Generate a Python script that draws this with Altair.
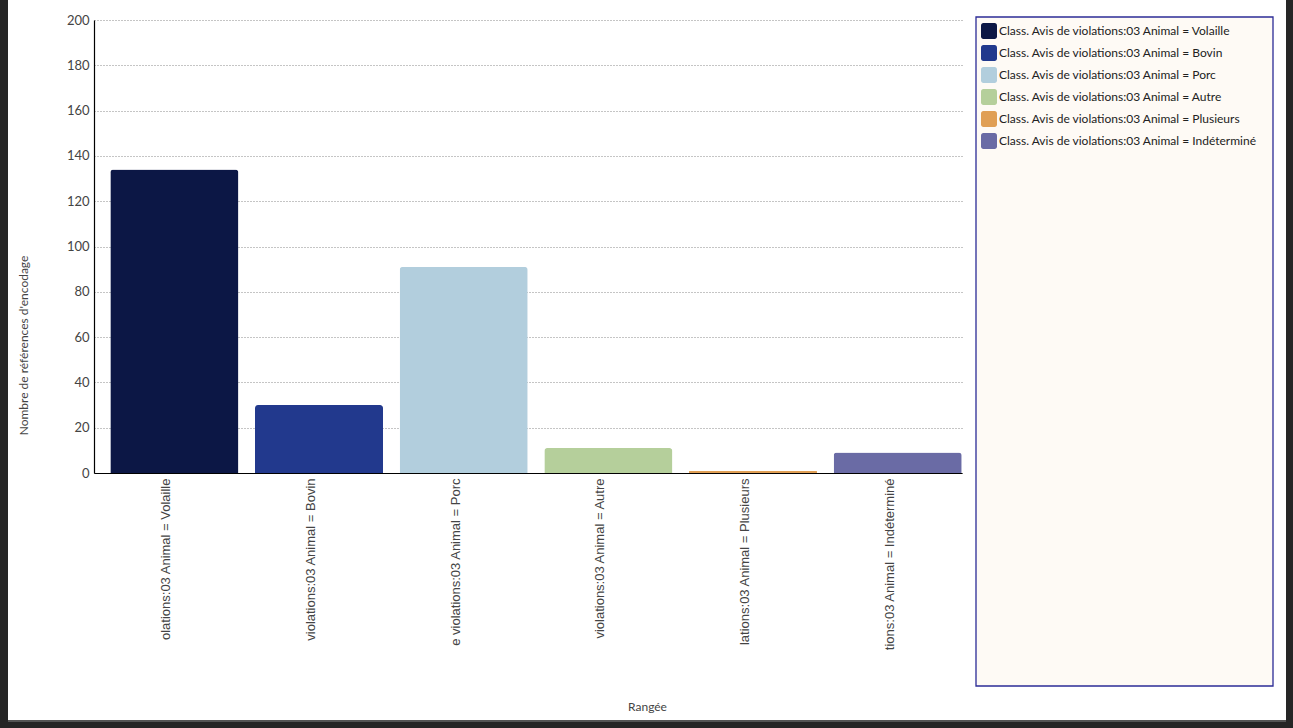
import altair as alt
import pandas as pd

categories = [
    "Class. Avis de violations:03 Animal = Volaille",
    "Class. Avis de violations:03 Animal = Bovin",
    "Class. Avis de violations:03 Animal = Porc",
    "Class. Avis de violations:03 Animal = Autre",
    "Class. Avis de violations:03 Animal = Plusieurs",
    "Class. Avis de violations:03 Animal = Indéterminé",
]
values = [134, 30, 91, 11, 1, 9]
colors = ["#0c1745", "#22398d", "#b2cedd", "#b5cf9b", "#e09f55", "#6a6ba5"]
y_ticks = [0, 20, 40, 60, 80, 100, 120, 140, 160, 180, 200]

df = pd.DataFrame({"cat": categories, "val": values})

PL, PT = 94, 20
W, H = 868, 453
TOTAL_W, TOTAL_H = 1293, 728

one = pd.DataFrame({"a": [0]})

ROUNDED_SQUARE = ("M-0.7,-1H0.7A0.3,0.3 0 0 1 1,-0.7V0.7A0.3,0.3 0 0 1 0.7,1"
                  "H-0.7A0.3,0.3 0 0 1 -1,0.7V-0.7A0.3,0.3 0 0 1 -0.7,-1Z")

# legend frame
frame = alt.Chart(one).mark_rect(fill="#fefaf5", stroke="#2c2c96", strokeWidth=1.3).encode(
    x=alt.value(976 - PL), x2=alt.value(1273 - PL),
    y=alt.value(17 - PT), y2=alt.value(686 - PT),
)

# dark screenshot frame
dark = "#262626"
left_strip = alt.Chart(one).mark_rect(fill=dark).encode(
    x=alt.value(-PL), x2=alt.value(8 - PL), y=alt.value(-PT), y2=alt.value(TOTAL_H - PT))
right_strip = alt.Chart(one).mark_rect(fill=dark).encode(
    x=alt.value(1286 - PL), x2=alt.value(TOTAL_W - PL), y=alt.value(-PT), y2=alt.value(TOTAL_H - PT))
bottom_strip = alt.Chart(one).mark_rect(fill=dark).encode(
    x=alt.value(-PL), x2=alt.value(TOTAL_W - PL), y=alt.value(722 - PT), y2=alt.value(TOTAL_H - PT))
bottom_line = alt.Chart(one).mark_rect(fill="#555555").encode(
    x=alt.value(8 - PL), x2=alt.value(1286 - PL), y=alt.value(720 - PT), y2=alt.value(722 - PT))

bars = alt.Chart(df).mark_bar(
    cornerRadiusTopLeft=3, cornerRadiusTopRight=3, xOffset=8
).encode(
    x=alt.X(
        "cat:N", sort=categories,
        scale=alt.Scale(paddingInner=0.115, paddingOuter=0.0575),
        axis=alt.Axis(
            title="Rangée", labelAngle=270, labelAlign="right", labelBaseline="middle",
            labelExpr="slice(datum.label, -29)", labelLimit=400,
            labelFont="Liberation Sans", labelFontSize=13, labelColor="#444444",
            labelPadding=5, ticks=False, domainColor="#000000", domainWidth=1,
            titleFont="Lato", titleFontSize=12, titleFontWeight="normal", titleColor="#444444",
            titleX=647 - PL, titleY=706 - (PT + H), titleBaseline="middle", titleAlign="center",
            grid=False,
        ),
    ),
    y=alt.Y(
        "val:Q", scale=alt.Scale(domain=[0, 200], nice=False),
        axis=alt.Axis(
            title="Nombre de références d'encodage", values=y_ticks,
            labelFont="Lato", labelFontSize=13, labelColor="#444444", labelPadding=5,
            ticks=False, domainColor="#000000", domainWidth=1.2,
            grid=True, gridColor="#8a8a8a", gridDash=[1, 2], gridWidth=1,
            titleFont="Lato", titleFontSize=12, titleFontWeight="normal", titleColor="#444444",
            titleAngle=270, titleX=23 - PL, titleY=345 - PT, titleBaseline="middle", titleAlign="center",
        ),
    ),
    color=alt.Color(
        "cat:N", sort=categories,
        scale=alt.Scale(domain=categories, range=colors),
        legend=alt.Legend(
            title=None, orient="none", legendX=981 - PL, legendY=23 - PT,
            symbolType=ROUNDED_SQUARE, symbolSize=256, symbolStrokeWidth=0, symbolOpacity=1,
            labelFont="Lato", labelFontSize=12, labelColor="#222222", labelOffset=2,
            rowPadding=6, labelLimit=400, padding=0,
        ),
    ),
)

chart = alt.layer(frame, left_strip, right_strip, bottom_strip, bottom_line, bars).properties(
    width=W, height=H,
    autosize=alt.AutoSizeParams(type="none"),
    padding={"left": PL, "top": PT, "right": TOTAL_W - PL - W, "bottom": TOTAL_H - PT - H},
    background="#ffffff",
).configure_view(stroke=None)

chart.save("out.html", embed_options={"renderer": "svg", "actions": False})
